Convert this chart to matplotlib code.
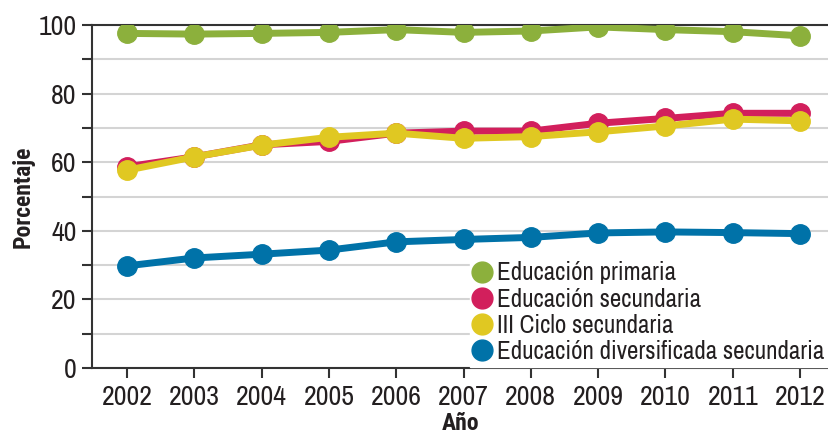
import matplotlib.pyplot as plt
from matplotlib.ticker import MultipleLocator

# ============================================================================#
#                                   DATA                                      #
# ============================================================================#
years = [2002, 2003, 2004, 2005, 2006, 2007, 2008, 2009, 2010, 2011, 2012]

primaria = [97.6, 97.4, 97.6, 97.9, 98.7, 97.9, 98.3, 99.5, 98.7, 98.1, 96.9]
secundaria = [58.7, 61.6, 65.1, 66.1, 68.5, 69.1, 69.1, 71.4, 72.8, 74.3, 74.3]
iii_ciclo = [57.7, 61.6, 65.0, 67.3, 68.5, 67.0, 67.5, 68.9, 70.6, 72.6, 72.1]
diversificada = [29.8, 32.1, 33.2, 34.4, 36.8, 37.5, 38.1, 39.4, 39.7, 39.5, 39.2]

labels = ["Educación primaria", "Educación secundaria",
          "III Ciclo secundaria", "Educación diversificada secundaria"]
colors = ["#8cb03c", "#d21f5c", "#e0c822", "#0072a8"]

# ============================================================================#
#                                   PLOT                                      #
# ============================================================================#
plt.rcParams['font.family'] = ['Archivo Narrow', 'DejaVu Sans']
bold_font = ['Roboto Condensed', 'Archivo Narrow', 'DejaVu Sans']
txt = "#231f20"

fig = plt.figure(figsize=(8.29, 4.34), dpi=100)
ax = fig.add_axes([0.111, 0.152, 0.889, 0.790])

series = [primaria, secundaria, iii_ciclo, diversificada]
for vals, lab, col in zip(series, labels, colors):
    ax.plot(years, vals, color=col, lw=5, marker="o", ms=14,
            solid_capstyle="round", label=lab, zorder=3)

ax.set_xlim(2001.48, 2012.43)
ax.set_ylim(0, 100)
ax.set_xticks(years)
ax.yaxis.set_major_locator(MultipleLocator(20))
ax.yaxis.set_minor_locator(MultipleLocator(10))
ax.grid(axis="y", which="both", color="#d4d4d4", lw=1.5, zorder=0)

for s in ["left", "bottom", "top"]:
    ax.spines[s].set_color("#333333")
    ax.spines[s].set_linewidth(1.5)
ax.spines["right"].set_visible(False)

ax.tick_params(axis="both", which="major", labelsize=20, colors="#333333",
               labelcolor=txt, length=7, width=1.5)
ax.tick_params(axis="y", which="minor", length=7, width=1.5, colors="#333333")
ax.tick_params(axis="x", pad=5)
ax.tick_params(axis="y", pad=4)

ax.set_xlabel("Año", fontsize=17, fontweight="bold", family=bold_font,
              color=txt, labelpad=2)
ax.set_ylabel("Porcentaje", fontsize=17, fontweight="bold", family=bold_font,
              color=txt, labelpad=3)

handles = [plt.Line2D([], [], ls="", marker="o", ms=15, color=c) for c in colors]
leg = ax.legend(handles, labels, loc="lower right", bbox_to_anchor=(1.0, 0.0),
                fontsize=18, frameon=True, framealpha=1, edgecolor="white",
                facecolor="white", fancybox=False, handlelength=0.6,
                handletextpad=0.3, labelspacing=0.13, borderpad=0.15,
                borderaxespad=0.05)
for t in leg.get_texts():
    t.set_color(txt)
leg.set_zorder(5)

fig.savefig("out.png", dpi=100)
